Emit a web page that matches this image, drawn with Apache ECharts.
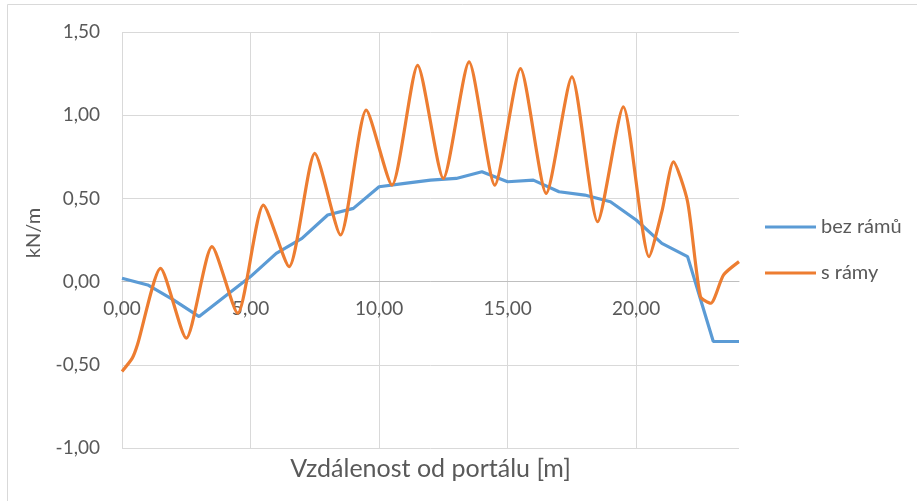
<!DOCTYPE html>
<html>
<head>
<meta charset="utf-8">
<script src="https://cdn.jsdelivr.net/npm/echarts@6/dist/echarts.min.js"></script>
<style>
  html, body { margin: 0; padding: 0; background: #ffffff; }
  #chart { width: 917px; height: 501px; }
</style>
</head>
<body>
<div id="chart"></div>
<script>
// Load along the tunnel: without frames vs. with frames (kN/m)
const seriesNames = ['bez rámů', 's rámy'];

const bezX = [0, 1, 2, 3, 4, 5, 6, 7, 8, 9, 10, 11, 12, 13, 14, 15, 16, 17, 18, 19, 20, 21, 22, 23, 24];
const bezY = [0.02, -0.02, -0.11, -0.21, -0.09, 0.03, 0.17, 0.26, 0.40, 0.44, 0.57, 0.59, 0.61, 0.62, 0.66,
              0.60, 0.61, 0.54, 0.52, 0.48, 0.37, 0.23, 0.15, -0.36, -0.36];

const sX = [0, 0.4, 0.6, 1.5, 2.5, 3.5, 4.5, 5.5, 6.5, 7.5, 8.5, 9.5, 10.5, 11.5, 12.5, 13.5, 14.5, 15.5,
            16.5, 17.5, 18.5, 19.5, 20.5, 21.0, 21.45, 22.0, 22.5, 22.9, 23.4, 24];
const sY = [-0.54, -0.46, -0.38, 0.08, -0.34, 0.21, -0.19, 0.46, 0.09, 0.77, 0.28, 1.03, 0.58, 1.30, 0.62, 1.32,
            0.58, 1.28, 0.53, 1.23, 0.36, 1.05, 0.15, 0.42, 0.72, 0.48, -0.09, -0.13, 0.04, 0.12];

const xTickStep = 5;
const yTickStep = 0.5;
const xRange = [0, 24];
const yRange = [-1, 1.5];

const axisTitleX = 'Vzdálenost od portálu [m]';
const axisTitleY = 'kN/m';

const fmt = v => v.toFixed(2).replace('.', ',');
const pairs = (xs, ys) => xs.map((x, i) => [x, ys[i]]);

const FONT = 'Lato';
const TXT = '#595959';
const GRID = '#d9d9d9';

// plot box
const W = 917, H = 501;
const G = { left: 122, right: 178, top: 32, bottom: 53 };
const plotH = H - G.top - G.bottom;
// lift the x axis from the bottom edge up to the y = 0 level
const zeroLift = plotH * (0 - yRange[0]) / (yRange[1] - yRange[0]);

const chart = echarts.init(document.getElementById('chart'), null, { renderer: 'canvas' });
chart.setOption({
  animation: false,
  backgroundColor: '#ffffff',
  textStyle: { fontFamily: FONT },
  graphic: [{
    type: 'rect',
    shape: { x: 7.5, y: 4.5, width: 920, height: 510 },
    style: { fill: 'none', stroke: '#d9d9d9', lineWidth: 1 },
    silent: true, z: -1
  }],
  grid: Object.assign({ containLabel: false, outerBoundsMode: 'none' }, G),
  legend: {
    orient: 'vertical',
    left: 760,
    top: 212,
    itemWidth: 51,
    itemHeight: 14,
    itemGap: 26,
    textStyle: { fontFamily: FONT, fontSize: 20, color: TXT },
    data: seriesNames.map((n, i) => ({
      name: n,
      itemStyle: { color: i === 0 ? '#5b9bd5' : '#ed7d31' },
      icon: 'path://M0,6 L51,6 L51,9 L0,9 Z'
    }))
  },
  xAxis: {
    type: 'value',
    position: 'bottom',
    offset: -zeroLift,
    min: xRange[0], max: xRange[1], interval: xTickStep,
    name: axisTitleX,
    nameLocation: 'middle',
    nameGap: 175,
    nameTextStyle: { fontFamily: FONT, fontSize: 25, color: TXT },
    axisLine: { show: true, onZero: false, lineStyle: { color: '#bfbfbf', width: 1 } },
    axisTick: { show: false },
    axisLabel: { margin: 18, fontFamily: FONT, fontSize: 19, color: TXT, showMaxLabel: false, formatter: fmt },
    splitLine: { show: true, showMaxLine: false, lineStyle: { color: GRID, width: 1 } }
  },
  yAxis: {
    type: 'value',
    min: yRange[0], max: yRange[1], interval: yTickStep,
    name: axisTitleY,
    nameLocation: 'middle',
    nameGap: 78,
    nameTextStyle: { fontFamily: FONT, fontSize: 20, color: TXT, padding: [0, 0, 0, 14] },
    axisLine: { show: false },
    axisTick: { show: false },
    axisLabel: { margin: 22, fontFamily: FONT, fontSize: 19, color: TXT, formatter: fmt },
    splitLine: { show: true, lineStyle: { color: GRID, width: 1 } }
  },
  series: [
    {
      name: seriesNames[0],
      type: 'line',
      data: pairs(bezX, bezY),
      symbol: 'none',
      smooth: false,
      lineStyle: { color: '#5b9bd5', width: 3.2 },
      itemStyle: { color: '#5b9bd5' },
      z: 2
    },
    {
      name: seriesNames[1],
      type: 'line',
      data: pairs(sX, sY),
      symbol: 'none',
      smooth: 0.22,
      lineStyle: { color: '#ed7d31', width: 3.2 },
      itemStyle: { color: '#ed7d31' },
      z: 3
    }
  ]
});
</script>
</body>
</html>
